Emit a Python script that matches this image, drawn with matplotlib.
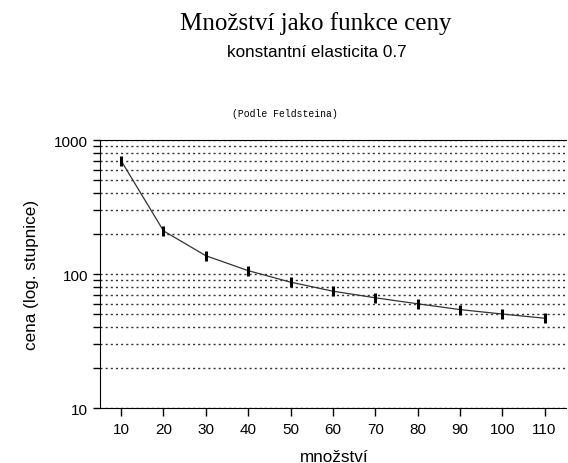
import matplotlib.pyplot as plt
from matplotlib.ticker import LogLocator, NullFormatter, FixedLocator

# data
mnozstvi = [10, 20, 30, 40, 50, 60, 70, 80, 90, 100, 110]
cena = [701, 210, 137, 106, 87, 74.5, 66.5, 60, 54.3, 50.3, 46.8]
x_ticks = [10, 20, 30, 40, 50, 60, 70, 80, 90, 100, 110]
y_ticks = [10, 100, 1000]

fig = plt.figure(figsize=(5.68, 4.64), dpi=100)
ax = fig.add_axes([0.176, 0.1185, 0.82, 0.5775])

ax.plot(mnozstvi, cena, color="#333333", lw=0.9, marker="|", ms=7, mew=2.2, mec="black")

ax.set_yscale("log")
ax.set_ylim(10, 1000)
ax.set_xlim(5, 115)
ax.xaxis.set_major_locator(FixedLocator(x_ticks))
ax.yaxis.set_major_locator(FixedLocator(y_ticks))
ax.yaxis.set_major_formatter(plt.FuncFormatter(lambda v, p: "%d" % v))
ax.yaxis.set_minor_locator(LogLocator(base=10, subs=range(2, 10)))
ax.yaxis.set_minor_formatter(NullFormatter())

ax.grid(True, which="both", axis="y", linestyle=(0, (1.5, 2.2)), color="#333333", lw=1.0)
ax.spines["right"].set_visible(False)
ax.tick_params(axis="both", which="both", direction="out", length=5, width=1, labelsize=11)
ax.tick_params(axis="x", length=6, pad=4)

sans = "Liberation Sans"
for lab in ax.get_xticklabels() + ax.get_yticklabels():
    lab.set_family(sans)

ax.set_xlabel("množství", family=sans, fontsize=12.3)
ax.set_ylabel("cena (log. stupnice)", family=sans, fontsize=12.3)
ax.xaxis.set_label_coords(0.504, -0.152)
ax.yaxis.set_label_coords(-0.13, 0.5)

fig.text(0.556, 0.95, "Množství jako funkce ceny", ha="center", va="center",
         family="Liberation Serif", fontsize=18)
fig.text(0.558, 0.886, "konstantní elasticita 0.7", ha="center", va="center",
         family=sans, fontsize=12.3)
fig.text(0.501, 0.754, "(Podle Feldsteina)", ha="center", va="center",
         family="Liberation Mono", fontsize=7)

fig.savefig("out.png", dpi=100)
